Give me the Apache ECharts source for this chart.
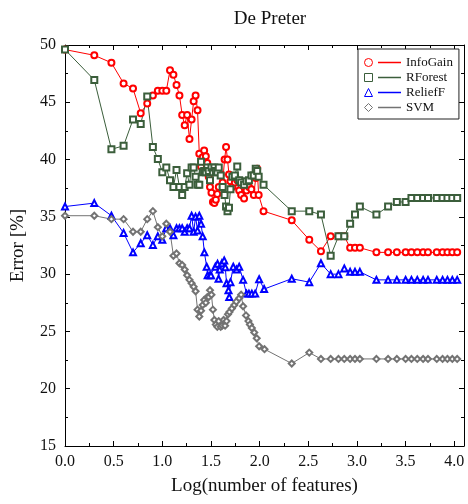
<!DOCTYPE html>
<html>
<head>
<meta charset="utf-8">
<script src="https://cdn.jsdelivr.net/npm/echarts@6/dist/echarts.min.js"></script>
<style>
  html, body { margin: 0; padding: 0; background: #fff; }
  #chart { width: 468px; height: 504px; }
</style>
</head>
<body>
<div id="chart"></div>
<script>
// x = log10(number of features); shared head (1..25 features) and tail
const headX = [0, 0.301, 0.477, 0.602, 0.699, 0.778, 0.845, 0.903, 0.954, 1.0, 1.041, 1.079, 1.114, 1.146, 1.176, 1.204, 1.230, 1.255, 1.279, 1.301, 1.322, 1.342, 1.362, 1.380, 1.398];
const tailX = [2.33, 2.51, 2.63, 2.73, 2.81, 2.87, 2.93, 2.98, 3.03, 3.20, 3.32, 3.41, 3.50, 3.56, 3.62, 3.68, 3.73, 3.82, 3.88, 3.93, 3.98, 4.03];

// InfoGain
const infoGainHeadY = [49.6, 49.1, 48.45, 46.65, 46.2, 44.05, 44.9, 45.6, 46.0, 46.0, 46.0, 47.8, 47.4, 46.5, 45.6, 43.9, 43.0, 43.9, 41.8, 43.5, 45.1, 45.6, 44.3, 40.5, 39.4];
const infoGainMidX = [1.415, 1.43, 1.447, 1.462, 1.477, 1.49, 1.505, 1.52, 1.535, 1.55, 1.565, 1.58, 1.60, 1.62, 1.64, 1.655, 1.67, 1.685, 1.70, 1.72, 1.745, 1.77, 1.79, 1.81, 1.84, 1.865, 1.89, 1.915, 1.94, 1.96, 1.975, 1.99, 2.04];
const infoGainMidY = [40.2, 40.8, 40.3, 39.7, 38.5, 37.6, 37.1, 36.3, 36.2, 36.5, 37.0, 37.6, 38.7, 38.0, 40.0, 41.1, 40.0, 38.7, 38.1, 37.6, 38.0, 38.2, 37.3, 36.9, 36.6, 37.3, 37.6, 37.4, 36.9, 38.4, 39.2, 36.9, 35.5];
const infoGainTailY = [34.7, 33.0, 32.0, 33.3, 33.3, 33.3, 32.3, 32.3, 32.3, 31.9, 31.9, 31.9, 31.9, 31.9, 31.9, 31.9, 31.9, 31.9, 31.9, 31.9, 31.9, 31.9];

// RForest
const rForestHeadY = [49.6, 46.95, 40.9, 41.2, 43.5, 43.1, 45.5, 41.1, 40.05, 38.9, 39.3, 38.2, 37.6, 39.1, 37.6, 36.9, 37.6, 38.8, 37.8, 39.3, 39.3, 38.5, 37.8, 37.8, 39.8];
const rForestMidX = [1.415, 1.43, 1.447, 1.462, 1.477, 1.49, 1.505, 1.52, 1.535, 1.55, 1.565, 1.58, 1.60, 1.62, 1.64, 1.655, 1.67, 1.685, 1.70, 1.72, 1.745, 1.77, 1.79, 1.81, 1.84, 1.865, 1.89, 1.915, 1.94, 1.96, 1.975, 1.99, 2.04];
const rForestMidY = [38.9, 39.0, 38.9, 39.3, 39.0, 38.2, 39.3, 38.9, 39.3, 39.0, 38.9, 39.3, 38.6, 37.6, 36.9, 35.9, 35.5, 35.8, 37.4, 38.5, 38.6, 39.4, 38.2, 38.0, 37.8, 38.1, 38.2, 38.6, 38.6, 39.2, 39.0, 38.5, 37.8];
const rForestTailY = [35.5, 35.5, 35.2, 31.6, 33.3, 33.3, 34.4, 35.2, 35.9, 35.2, 35.9, 36.3, 36.3, 36.65, 36.65, 36.65, 36.65, 36.65, 36.65, 36.65, 36.65, 36.65];

// ReliefF
const reliefHeadY = [35.9, 36.2, 35.1, 33.6, 31.9, 32.7, 33.4, 32.55, 33.3, 33.0, 34.0, 34.0, 33.4, 34.0, 34.0, 34.0, 33.7, 34.0, 34.0, 35.1, 33.7, 35.0, 33.8, 35.1, 34.4];
const reliefMidX = [1.415, 1.432, 1.456, 1.466, 1.49, 1.50, 1.545, 1.568, 1.578, 1.59, 1.612, 1.636, 1.647, 1.66, 1.68, 1.688, 1.70, 1.729, 1.763, 1.79, 1.83, 1.865, 1.89, 1.92, 1.954, 1.995, 2.046];
const reliefMidY = [33.3, 31.9, 30.65, 29.9, 29.9, 29.9, 30.65, 30.9, 29.6, 30.4, 30.95, 31.2, 30.6, 29.2, 28.6, 28.0, 29.3, 30.65, 30.4, 30.65, 29.5, 28.3, 28.3, 28.3, 28.3, 29.55, 28.7];
const reliefTailY = [29.6, 29.3, 30.95, 30.0, 30.0, 30.5, 30.2, 30.2, 30.2, 29.5, 29.5, 29.5, 29.5, 29.5, 29.5, 29.5, 29.5, 29.5, 29.5, 29.5, 29.5, 29.5];

// SVM
const svmHeadY = [35.1, 35.1, 34.8, 34.8, 33.7, 33.7, 34.8, 35.5, 34.1, 33.3, 34.4, 33.7, 31.6, 31.8, 30.95, 30.8, 30.4, 29.9, 29.5, 29.2, 28.9, 28.5, 26.9, 26.3, 26.8];
const svmMidX = [1.415, 1.43, 1.447, 1.462, 1.477, 1.49, 1.505, 1.52, 1.535, 1.55, 1.565, 1.58, 1.60, 1.615, 1.63, 1.645, 1.66, 1.675, 1.69, 1.715, 1.74, 1.76, 1.79, 1.81, 1.83, 1.86, 1.885, 1.90, 1.92, 1.945, 1.97, 1.995, 2.05];
const svmMidY = [27.3, 27.75, 27.5, 28.0, 28.0, 28.6, 28.2, 26.9, 26.0, 25.6, 25.4, 25.9, 25.4, 25.5, 26.0, 25.5, 25.9, 26.5, 26.7, 27.0, 27.3, 27.6, 27.9, 28.2, 27.2, 26.4, 25.9, 25.6, 25.3, 24.9, 24.4, 23.7, 23.45];
const svmTailY = [22.2, 23.15, 22.6, 22.6, 22.6, 22.6, 22.6, 22.6, 22.6, 22.6, 22.6, 22.6, 22.6, 22.6, 22.6, 22.6, 22.6, 22.6, 22.6, 22.6, 22.6, 22.6];

const seriesNames = ['InfoGain', 'RForest', 'ReliefF', 'SVM'];
const seriesColors = ['#ff0000', '#3b5e3b', '#0000ff', '#737373'];
const seriesSymbols = ['emptyCircle', 'emptyRect', 'emptyTriangle', 'emptyDiamond'];
const legendSymbols = ['circle', 'rect', 'triangle', 'diamond'];

const FONT = '"Liberation Serif", "DejaVu Serif", serif';

function pairs(xs, ys) {
  return xs.map((x, i) => [x, ys[i]]);
}

const seriesData = [
  pairs(headX.concat(infoGainMidX, tailX), infoGainHeadY.concat(infoGainMidY, infoGainTailY)),
  pairs(headX.concat(rForestMidX, tailX), rForestHeadY.concat(rForestMidY, rForestTailY)),
  pairs(headX.concat(reliefMidX, tailX), reliefHeadY.concat(reliefMidY, reliefTailY)),
  pairs(headX.concat(svmMidX, tailX), svmHeadY.concat(svmMidY, svmTailY))
];

const chart = echarts.init(document.getElementById('chart'));

const xBase = {
  type: 'value', min: 0, max: 4.1, interval: 0.5,
  axisLine: {show: true, onZero: false, lineStyle: {color: '#000', width: 1}},
  axisTick: {show: true, inside: true, length: 5, lineStyle: {color: '#000'}},
  minorTick: {show: true, splitNumber: 2, length: 3, lineStyle: {color: '#000'}},
  splitLine: {show: false}
};
const yBase = {
  type: 'value', min: 15, max: 50, interval: 5,
  axisLine: {show: true, onZero: false, lineStyle: {color: '#000', width: 1}},
  axisTick: {show: true, inside: true, length: 5, lineStyle: {color: '#000'}},
  minorTick: {show: true, splitNumber: 2, length: 3, lineStyle: {color: '#000'}},
  splitLine: {show: false}
};

chart.setOption({
  animation: false,
  backgroundColor: '#fff',
  title: {
    text: 'De Preter',
    left: 265,
    textAlign: 'center',
    top: 5,
    textStyle: {fontFamily: FONT, fontSize: 19, fontWeight: 'normal', color: '#111'}
  },
  grid: {left: 65, right: 4, top: 45, bottom: 58},
  xAxis: [
    Object.assign({}, xBase, {
      position: 'bottom',
      name: 'Log(number of features)',
      nameLocation: 'middle',
      nameGap: 31,
      nameTextStyle: {fontFamily: FONT, fontSize: 19, color: '#111'},
      axisLabel: {
        fontFamily: FONT, fontSize: 16, color: '#111', margin: 8,
        showMaxLabel: false,
        formatter: v => v.toFixed(1)
      }
    }),
    Object.assign({}, xBase, {position: 'top', axisLabel: {show: false}})
  ],
  yAxis: [
    Object.assign({}, yBase, {
      position: 'left',
      name: 'Error [%]',
      nameLocation: 'middle',
      nameGap: 37,
      nameTextStyle: {fontFamily: FONT, fontSize: 19, color: '#111'},
      axisLabel: {fontFamily: FONT, fontSize: 16, color: '#111', margin: 9}
    }),
    Object.assign({}, yBase, {position: 'right', axisLabel: {show: false}})
  ],
  legend: [
    {
      // symbols column
      orient: 'vertical',
      left: 364, top: 49,
      padding: [6, 0, 4, 0],
      itemWidth: 8, itemHeight: 8, itemGap: 0,
      selectedMode: false,
      formatter: ' ',
      textStyle: {fontFamily: FONT, fontSize: 13, lineHeight: 15},
      data: seriesNames.map((n, i) => ({
        name: n, icon: legendSymbols[i],
        itemStyle: {color: '#fff', borderColor: seriesColors[i], borderWidth: 1}
      })),
      z: 10
    },
    {
      // line + label column, with frame
      orient: 'vertical',
      left: 358, top: 49,
      padding: [6, 6, 4, 20],
      borderColor: '#222', borderWidth: 1,
      backgroundColor: '#fff',
      itemWidth: 23, itemHeight: 1.5, itemGap: 0,
      selectedMode: false,
      textStyle: {fontFamily: FONT, fontSize: 13, lineHeight: 15, color: '#111'},
      data: seriesNames.map((n, i) => ({
        name: n, icon: 'rect',
        itemStyle: {color: seriesColors[i], borderWidth: 0}
      })),
      z: 9
    }
  ],
  series: seriesNames.map((n, i) => ({
    name: n,
    type: 'line',
    data: seriesData[i],
    symbol: seriesSymbols[i],
    symbolSize: 6,
    color: seriesColors[i],
    lineStyle: {width: 1, color: seriesColors[i]},
    itemStyle: {color: seriesColors[i], borderColor: seriesColors[i], borderWidth: 1}
  }))
});
</script>
</body>
</html>
